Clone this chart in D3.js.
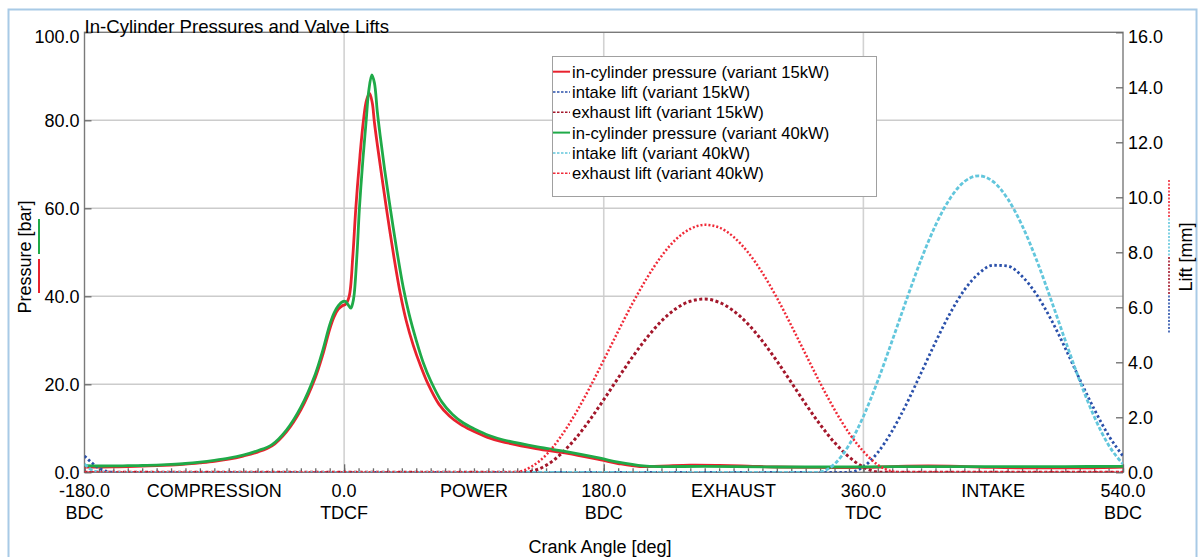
<!DOCTYPE html>
<html>
<head>
<meta charset="utf-8">
<script src="https://cdn.jsdelivr.net/npm/d3@7/dist/d3.min.js"></script>
<style>
    body { margin: 0; background: #fff; }
    svg text { font-family: "Liberation Sans", Arial, sans-serif; fill: #000; }
</style>
</head>
<body>
<svg id="chart" width="1201" height="557"></svg>
<script>
(function () {

    // crank angle [deg] / pressure [bar], variant 15kW
    var p15Angle = [-180, -170, -160, -150, -140, -130, -120, -110, -100, -90, -80, -70, -60, -50, -40, -30, -20, -15, -10, -7, -4, -1, 1, 3.5, 6, 8.1, 11, 13.4, 15.5, 17.6, 19.5, 21, 23, 26, 30, 34.5, 39, 43, 48, 53, 58, 65.7, 73, 80.7, 88, 99, 108, 133, 155, 178, 190, 205, 220, 240, 260, 280, 300, 330, 360, 390, 420, 450, 480, 510, 540];
    var p15Value = [1.2, 1.2, 1.25, 1.3, 1.4, 1.5, 1.65, 1.85, 2.15, 2.5, 3.0, 3.7, 4.6, 6.0, 9.2, 14.2, 21.5, 26.5, 32.5, 35.3, 37.1, 37.9, 38.2, 40, 49, 60, 72, 80, 84.5, 86.1, 84, 79.5, 74.5, 67.5, 58.5, 49, 40.5, 34.5, 28.8, 24.2, 20.2, 15.5, 12.8, 10.9, 9.6, 8.0, 7.1, 5.4, 4.3, 2.8, 2.0, 1.3, 1.4, 1.6, 1.55, 1.4, 1.2, 1.1, 1.1, 1.4, 1.4, 1.1, 1.0, 1.0, 1.2];

    // crank angle [deg] / pressure [bar], variant 40kW
    var p40Angle = [-180, -170, -160, -150, -140, -130, -120, -110, -100, -90, -80, -70, -60, -50, -40, -30, -20, -15, -10, -7, -4, -1, 1, 2.5, 4.6, 6, 7, 9, 10.6, 13, 15.3, 17, 19.2, 21, 23, 25, 28, 32, 36.5, 41, 45, 50, 55, 60, 67.7, 75, 82.7, 90, 101, 110, 134, 154, 177.5, 190, 207.5, 220, 250, 300, 360, 400, 450, 500, 540];
    var p40Value = [1.5, 1.43, 1.45, 1.5, 1.55, 1.65, 1.8, 2.0, 2.3, 2.7, 3.2, 3.9, 4.9, 6.3, 9.6, 14.8, 22.3, 27.5, 33.5, 36.2, 37.9, 38.8, 38.8, 38.2, 37.3, 38.5, 40.5, 50, 60, 71, 80, 86.5, 90.3, 88.5, 82, 76.5, 69, 60, 50.5, 42, 36, 30, 24.8, 20.8, 16.0, 13.2, 11.2, 9.9, 8.3, 7.4, 5.8, 4.7, 3.2, 2.3, 1.45, 1.3, 1.35, 1.2, 1.25, 1.3, 1.3, 1.3, 1.35];

    // crank angle [deg] / valve lift [mm]
    var in15Angle = [-180, -175, -170, -165, -160, 350, 360, 370, 380, 390, 400, 410, 420, 430, 440, 450, 460, 470, 480, 490, 500, 510, 520, 530, 540];
    var in15Value = [0.59, 0.35, 0.15, 0.04, 0, 0, 0.2, 0.72, 1.51, 2.5, 3.61, 4.73, 5.77, 6.63, 7.23, 7.53, 7.5, 7.13, 6.47, 5.57, 4.51, 3.38, 2.3, 1.34, 0.59];

    var ex15Angle = [-180, 125, 130, 140, 150, 160, 170, 180, 190, 200, 210, 220, 230, 240, 250, 260, 270, 280, 290, 300, 310, 320, 330, 340, 350, 360, 370, 374, 540];
    var ex15Value = [0, 0, 0.04, 0.25, 0.65, 1.2, 1.88, 2.64, 3.43, 4.2, 4.9, 5.5, 5.95, 6.22, 6.3, 6.18, 5.87, 5.39, 4.77, 4.05, 3.27, 2.48, 1.74, 1.08, 0.56, 0.19, 0.01, 0, 0];

    var in40Angle = [-180, -176, -172, -168, 328, 330, 340, 350, 360, 370, 380, 390, 400, 410, 420, 430, 440, 450, 460, 470, 480, 490, 500, 510, 520, 530, 540];
    var in40Value = [0.3, 0.12, 0.02, 0, 0, 0.01, 0.3, 0.99, 2.03, 3.33, 4.79, 6.29, 7.73, 8.98, 9.95, 10.57, 10.78, 10.57, 9.95, 8.98, 7.73, 6.29, 4.79, 3.33, 2.03, 0.99, 0.3];

    var ex40Angle = [-180, 117, 120, 130, 140, 150, 160, 170, 180, 190, 200, 210, 220, 230, 240, 250, 260, 270, 280, 290, 300, 310, 320, 330, 340, 350, 360, 370, 380, 385, 540];
    var ex40Value = [0, 0, 0.01, 0.21, 0.63, 1.28, 2.1, 3.05, 4.08, 5.13, 6.15, 7.07, 7.86, 8.47, 8.85, 9.0, 8.9, 8.56, 8.0, 7.25, 6.35, 5.34, 4.29, 3.25, 2.28, 1.43, 0.76, 0.27, 0.03, 0, 0];

    var seriesNames = [
        'in-cylinder pressure (variant 15kW)',
        'intake lift (variant 15kW)',
        'exhaust lift (variant 15kW)',
        'in-cylinder pressure (variant 40kW)',
        'intake lift (variant 40kW)',
        'exhaust lift (variant 40kW)'
    ];

    var pressureTicks = [0, 20, 40, 60, 80, 100];
    var liftTicks = [0, 2, 4, 6, 8, 10, 12, 14, 16];
    var majorAngles = [-180, 0, 180, 360, 540];
    var majorNames = ['BDC', 'TDCF', 'BDC', 'TDC', 'BDC'];
    var phaseAngles = [-90, 90, 270, 450];
    var phaseNames = ['COMPRESSION', 'POWER', 'EXHAUST', 'INTAKE'];
    var gridAngles = [0, 180, 360];
    var gridPressures = [20, 40, 60, 80];

    var styles = [
        { color: '#e8222e', width: 2.8, dash: null, axis: 'p' },
        { color: '#2a50aa', width: 2.8, dash: '2.5,2.5', axis: 'l' },
        { color: '#a3172b', width: 3, dash: '3,2.5', axis: 'l' },
        { color: '#1faa48', width: 2.8, dash: null, axis: 'p' },
        { color: '#62c6dc', width: 2.8, dash: '4,2', axis: 'l' },
        { color: '#f02a38', width: 2.5, dash: '2,2', axis: 'l' }
    ];

    var left = 84.5, right = 1123, top = 32.3, bottom = 472.3;

    var svg = d3.select('#chart');
    var x = d3.scaleLinear().domain([-180, 540]).range([left, right]);
    var yP = d3.scaleLinear().domain([0, 100]).range([bottom, top]);
    var yL = d3.scaleLinear().domain([0, 16]).range([bottom, top]);
    // plain hyphen for negatives, like the original
    var fmt = d3.formatLocale({ decimal: '.', thousands: ',', grouping: [3], currency: ['', ''], minus: '-' }).format('.1f');

    // outer frame
    svg.append('rect')
        .attr('x', 8.5).attr('y', 9.5)
        .attr('width', 1188).attr('height', 570)
        .attr('fill', 'none')
        .attr('stroke', '#a8cae6')
        .attr('stroke-width', 2);

    // grid
    svg.append('g').selectAll('line').data(gridAngles).enter().append('line')
        .attr('x1', function (d) { return x(d); })
        .attr('x2', function (d) { return x(d); })
        .attr('y1', top).attr('y2', bottom)
        .attr('stroke', '#d2d2d2').attr('stroke-width', 1.6);
    svg.append('g').selectAll('line').data(gridPressures).enter().append('line')
        .attr('x1', left).attr('x2', right)
        .attr('y1', function (d) { return yP(d); })
        .attr('y2', function (d) { return yP(d); })
        .attr('stroke', '#cccccc').attr('stroke-width', 1.6);

    // plot border
    svg.append('rect')
        .attr('x', left).attr('y', top)
        .attr('width', right - left).attr('height', bottom - top)
        .attr('fill', 'none').attr('stroke', '#7a7a7a').attr('stroke-width', 1.4);

    // left axis
    var gl = svg.append('g').attr('transform', 'translate(' + left + ',0)')
        .call(d3.axisLeft(yP).tickValues(pressureTicks).tickSize(-7).tickPadding(5).tickFormat(fmt));
    // right axis
    var gr = svg.append('g').attr('transform', 'translate(' + right + ',0)')
        .call(d3.axisRight(yL).tickValues(liftTicks).tickSize(-7).tickPadding(5).tickFormat(fmt));
    // bottom minor / major ticks
    var minor = d3.range(-180, 541, 10);
    var gb = svg.append('g').attr('transform', 'translate(0,' + bottom + ')')
        .call(d3.axisBottom(x).tickValues(minor).tickSize(-4).tickFormat(''));
    var gb2 = svg.append('g').attr('transform', 'translate(0,' + bottom + ')')
        .call(d3.axisBottom(x).tickValues(majorAngles).tickSize(-8).tickFormat(''));

    [gl, gr, gb, gb2].forEach(function (g) {
        g.select('.domain').remove();
        g.selectAll('.tick line').attr('stroke', '#6a6a6a').attr('stroke-width', 1.3);
        g.selectAll('.tick text').attr('font-size', 18).attr('fill', '#000')
            .style('font-family', '"Liberation Sans", Arial, sans-serif');
    });
    gl.select('.tick:last-of-type text').attr('dy', '0.55em');
    gr.select('.tick:last-of-type text').attr('dy', '0.55em');

    // x labels
    var xl = svg.append('g').attr('font-size', 18).attr('text-anchor', 'middle');
    majorAngles.forEach(function (a, i) {
        xl.append('text').attr('x', x(a)).attr('y', 496.5).text(fmt(a));
        xl.append('text').attr('x', x(a)).attr('y', 519).text(majorNames[i]);
    });
    phaseAngles.forEach(function (a, i) {
        xl.append('text').attr('x', x(a)).attr('y', 496.5).text(phaseNames[i]);
    });
    xl.append('text').attr('x', 600).attr('y', 552.5).text('Crank Angle [deg]');

    // title
    svg.append('text').attr('x', left).attr('y', 33).attr('font-size', 18.6)
        .text('In-Cylinder Pressures and Valve Lifts');

    // axis titles
    svg.append('text').attr('font-size', 18).attr('text-anchor', 'middle')
        .attr('transform', 'translate(31,257) rotate(-90)')
        .text('Pressure [bar]');
    svg.append('text').attr('font-size', 18).attr('text-anchor', 'middle')
        .attr('transform', 'translate(1192,257) rotate(-90)')
        .text('Lift [mm]');

    // colour keys next to the axis titles
    var leftKeys = [3, 0];
    leftKeys.forEach(function (s, i) {
        drawKey(39, 219 + i * 40, 39, 254 + i * 39, styles[s]);
    });
    var rightKeys = [5, 4, 2, 1];
    rightKeys.forEach(function (s, i) {
        drawKey(1169, 180 + i * 38.5, 1169, 217 + i * 38.5, styles[s]);
    });

    // curves
    svg.append('clipPath').attr('id', 'plot-clip').append('rect')
        .attr('x', left).attr('y', top).attr('width', right - left).attr('height', bottom - top);
    var plot = svg.append('g').attr('clip-path', 'url(#plot-clip)');

    var series = [
        [p15Angle, p15Value],
        [in15Angle, in15Value],
        [ex15Angle, ex15Value],
        [p40Angle, p40Value],
        [in40Angle, in40Value],
        [ex40Angle, ex40Value]
    ];

    series.forEach(function (s, i) {
        var st = styles[i];
        var yScale = st.axis === 'p' ? yP : yL;
        var pts = s[0].map(function (a, j) { return [a, s[1][j]]; });
        var line = d3.line()
            .x(function (d) { return x(d[0]); })
            .y(function (d) { return yScale(d[1]); })
            .curve(st.axis === 'p' ? d3.curveCatmullRom.alpha(0.5) : d3.curveMonotoneX);
        plot.append('path')
            .attr('d', line(pts))
            .attr('fill', 'none')
            .attr('stroke', st.color)
            .attr('stroke-width', st.width)
            .attr('stroke-dasharray', st.dash);
    });

    // legend
    var lg = svg.append('g');
    lg.append('rect')
        .attr('x', 552.5).attr('y', 56.5).attr('width', 324).attr('height', 140)
        .attr('fill', '#fff').attr('stroke', '#a0a0a0').attr('stroke-width', 1);
    seriesNames.forEach(function (name, i) {
        var yy = 71.7 + i * 20.3;
        var st = styles[i];
        lg.append('line')
            .attr('x1', 553).attr('x2', 570).attr('y1', yy).attr('y2', yy)
            .attr('stroke', st.color)
            .attr('stroke-width', st.dash ? 1.5 : 2)
            .attr('stroke-dasharray', st.dash ? '2.5,1.5' : null);
        lg.append('text').attr('x', 572).attr('y', yy + 6)
            .attr('font-size', 16.6).text(name);
    });

    function drawKey(x1, y1, x2, y2, st) {
        svg.append('line')
            .attr('x1', x1).attr('x2', x2).attr('y1', y1).attr('y2', y2)
            .attr('stroke', st.color)
            .attr('stroke-width', st.dash ? 1.6 : 2)
            .attr('stroke-dasharray', st.dash ? '2,1.5' : null);
    }

})();
</script>
</body>
</html>
